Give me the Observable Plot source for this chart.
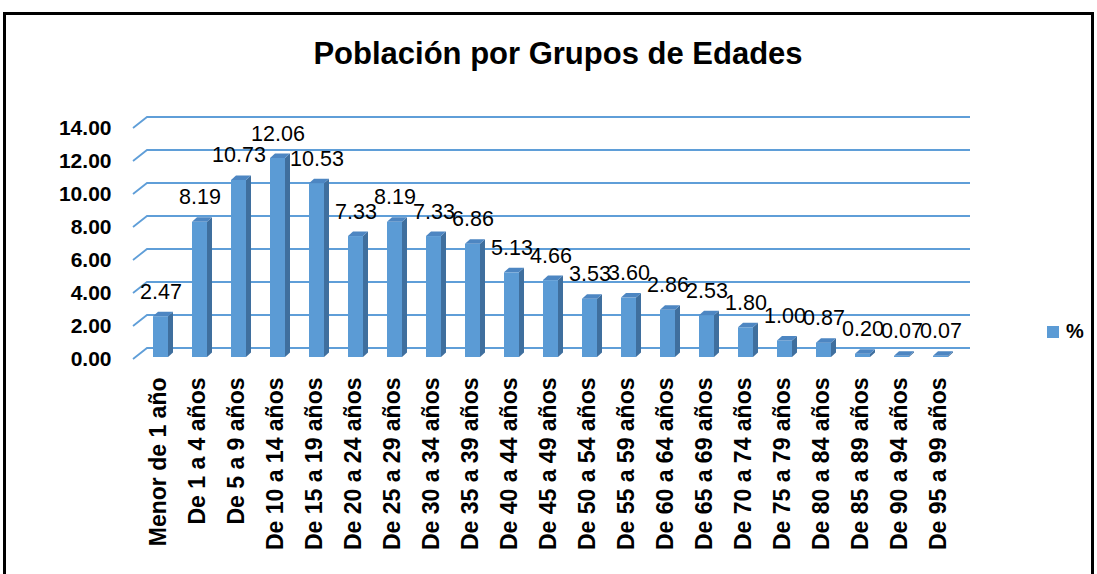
<!DOCTYPE html>
<html>
<head>
<meta charset="utf-8">
<script src="https://cdn.jsdelivr.net/npm/d3@7"></script>
<script src="https://cdn.jsdelivr.net/npm/@observablehq/plot@0.6"></script>
<style>
  body { margin: 0; background: #fff; }
  #wrap { position: relative; width: 1097px; height: 574px; overflow: hidden; background: #fff; font-family: "Liberation Sans", Arial, sans-serif; }
  #frame { position: absolute; left: 3px; top: 12px; width: 1091px; height: 620px; border: 3px solid #000; box-sizing: border-box; }
  #title { position: absolute; left: 0; width: 1116px; top: 36px; text-align: center; font-weight: bold; font-size: 31px; color: #000; }
  #chart { position: absolute; left: 0; top: 0; }
  #legend { position: absolute; left: 1047px; top: 320px; display: flex; align-items: center; font-weight: bold; font-size: 20px; color: #000; }
  #legend .sw { width: 12px; height: 12px; background: #5B9BD5; margin-right: 7px; }
</style>
</head>
<body>
<div id="wrap">
  <div id="frame"></div>
  <div id="chart"></div>
  <div id="title">Población por Grupos de Edades</div>
  <div id="legend"><span class="sw"></span><span id="legendLabel"></span></div>
</div>
<script>
const categories = [
  "Menor de 1 año", "De 1 a 4 años", "De 5 a 9 años", "De 10 a 14 años", "De 15 a 19 años",
  "De 20 a 24 años", "De 25 a 29 años", "De 30 a 34 años", "De 35 a 39 años", "De 40 a 44 años",
  "De 45 a 49 años", "De 50 a 54 años", "De 55 a 59 años", "De 60 a 64 años", "De 65 a 69 años",
  "De 70 a 74 años", "De 75 a 79 años", "De 80 a 84 años", "De 85 a 89 años", "De 90 a 94 años",
  "De 95 a 99 años"
];
const values = [2.47, 8.19, 10.73, 12.06, 10.53, 7.33, 8.19, 7.33, 6.86, 5.13, 4.66, 3.53, 3.60, 2.86, 2.53, 1.80, 1.00, 0.87, 0.20, 0.07, 0.07];
const yTicks = [0, 2, 4, 6, 8, 10, 12, 14];
const seriesName = "%";

const data = categories.map((c, i) => ({cat: c, v: values[i]}));

const FRONT = "#5B9BD5", SIDE = "#3F6F9E", TOP = "#4D86C2", GRID = "#5F9ED8";
const DX = 5, DY = -4.5;

function gridMark(index, scales, values, dims) {
  const {y} = scales;
  const ml = dims.marginLeft, xr = dims.width - dims.marginRight;
  const g = d3.create("svg:g").attr("fill", "none").attr("stroke", GRID).attr("stroke-width", 1.8);
  for (const t of yTicks) {
    const yy = y(t);
    g.append("path").attr("d", `M${ml - 5},${yy + 2}L${ml + 9},${yy - 9}L${xr + 8},${yy - 9}`);
  }
  return g.node();
}

function facesMark(index, scales) {
  const {x, y} = scales;
  const bw = x.bandwidth();
  const g = d3.create("svg:g");
  for (const d of data) {
    const x0 = x(d.cat), x1 = x0 + bw, yt = y(d.v), yb = y(0);
    g.append("path")
      .attr("d", `M${x1},${yt}L${x1 + DX},${yt + DY}L${x1 + DX},${yb + DY}L${x1},${yb}Z`)
      .attr("fill", SIDE);
    g.append("path")
      .attr("d", `M${x0},${yt}L${x1},${yt}L${x1 + DX},${yt + DY}L${x0 + DX},${yt + DY}Z`)
      .attr("fill", TOP);
  }
  return g.node();
}

const chart = Plot.plot({
  width: 1097,
  height: 574,
  marginTop: 126,
  marginBottom: 217,
  marginLeft: 138,
  marginRight: 135,
  style: {background: "transparent", fontFamily: "'Liberation Sans', Arial, sans-serif", color: "#000"},
  x: {domain: categories, paddingInner: 0.62, paddingOuter: 0.31, axis: null},
  y: {domain: [0, 14], axis: null},
  marks: [
    gridMark,
    Plot.barY(data, {x: "cat", y: "v", fill: FRONT}),
    facesMark,
    Plot.text(data, {x: "cat", y: "v", text: d => d.v.toFixed(2), lineAnchor: "bottom", dy: -18, fontSize: 21.5, fill: "#000"}),
    Plot.text(data, {x: "cat", y: () => 0, text: "cat", rotate: -90, textAnchor: "end", dy: 20, dx: -2, fontSize: 23, fontWeight: "bold", fill: "#000"}),
    Plot.axisY({ticks: yTicks, tickFormat: d => d.toFixed(2), tickSize: 0, tickPadding: 27, dy: 2, fontSize: 21, fontWeight: "bold", label: null})
  ]
});
document.getElementById("chart").appendChild(chart);
document.getElementById("legendLabel").textContent = seriesName;
</script>
</body>
</html>
